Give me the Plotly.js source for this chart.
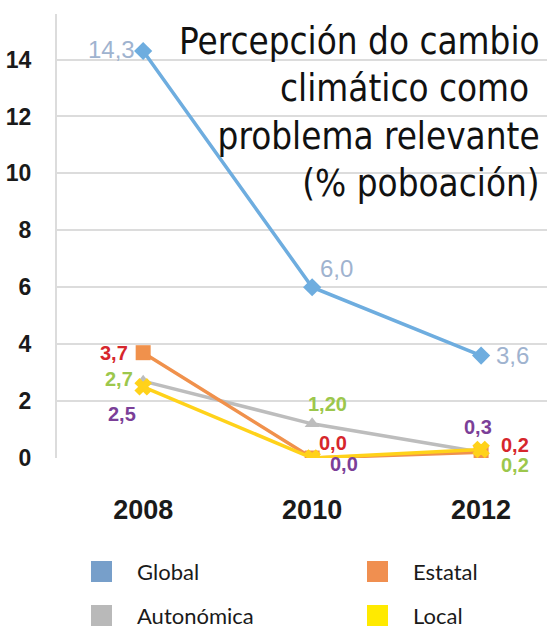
<!DOCTYPE html>
<html>
<head>
<meta charset="utf-8">
<script src="https://cdn.plot.ly/plotly-3.0.1.min.js"></script>
<style>html,body{margin:0;padding:0;background:#fff;}#chart{width:547px;height:629px;}</style>
</head>
<body>
<div id="chart"></div>
<script>
// ---- data ----
const years = [2008, 2010, 2012];
const yearLabels = ["2008", "2010", "2012"];
const seriesNames = ["Global", "Autonómica", "Estatal", "Local"];
const globalValues = [14.3, 6.0, 3.6];
const autonomicaValues = [2.7, 1.2, 0.2];
const estatalValues = [3.7, 0.0, 0.2];
const localValues = [2.5, 0.0, 0.3];
const globalLabels = ["14,3", "6,0", "3,6"];
const autonomicaLabels = ["2,7", "1,20", "0,2"];
const estatalLabels = ["3,7", "0,0", "0,2"];
const localLabels = ["2,5", "0,0", "0,3"];
const yTicks = [0, 2, 4, 6, 8, 10, 12, 14];
const titleLines = ["Percepción do cambio", "climático como ", "problema relevante", "(% poboación)"];
const legendOrder = ["Global", "Estatal", "Autonómica", "Local"];

// ---- styles ----
const styles = {
  "Global":     {line: "#6eaddf", legend: "#779fca", label: "#9fb3cf", symbol: "diamond", size: 14, bold: false},
  "Autonómica": {line: "#bdbdbd", legend: "#b9b9b9", label: "#9cc74c", symbol: "triangle-up", size: 13, bold: true},
  "Estatal":    {line: "#f0914c", legend: "#f08f50", label: "#d6262c", symbol: "square", size: 15, bold: true},
  "Local":      {line: "#ffd21a", legend: "#ffea00", label: "#7b3f98", symbol: "x", size: 13, bold: true}
};
const values = {"Global": globalValues, "Autonómica": autonomicaValues, "Estatal": estatalValues, "Local": localValues};
const labels = {"Global": globalLabels, "Autonómica": autonomicaLabels, "Estatal": estatalLabels, "Local": localLabels};
// label placement [xanchor, xshift, yshift] per point
const labelPos = {
  "Global":     [["right", -6, 2], ["left", 6, 19], ["left", 13, 0]],
  "Autonómica": [["right", -8, 2], ["center", 15, 20], ["left", 18, -13]],
  "Estatal":    [["right", -13, 0], ["left", 5, 15], ["left", 18, 7]],
  "Local":      [["right", -5, -27], ["left", 16, -6], ["center", -3, 22]]
};

const traces = seriesNames.map(n => ({
  x: years, y: values[n], type: "scatter", mode: "lines+markers", name: n,
  line: {color: styles[n].line, width: 3.5},
  marker: {color: styles[n].line, symbol: styles[n].symbol, size: styles[n].size,
           line: {color: styles[n].line, width: n === "Local" ? 2 : 0}},
  showlegend: false, hoverinfo: "skip"
}));

const annotations = [];
seriesNames.forEach(n => {
  values[n].forEach((v, i) => {
    const p = labelPos[n][i];
    annotations.push({
      x: years[i], y: v, xref: "x", yref: "y", text: labels[n][i], showarrow: false,
      xanchor: p[0], yanchor: "middle", xshift: p[1], yshift: p[2],
      font: styles[n].bold
        ? {family: "Liberation Sans, Arial, sans-serif", size: 20, color: styles[n].label, weight: "bold"}
        : {family: "Liberation Sans, Arial, sans-serif", size: 24, color: styles[n].label}
    });
  });
});

annotations.push({
  xref: "paper", yref: "paper", x: 0.99, y: 1.0, xanchor: "right", yanchor: "top",
  yshift: -4, align: "right", showarrow: false,
  text: titleLines.join("<br>"),
  font: {family: "DejaVu Sans Condensed, DejaVu Sans, sans-serif", size: 36.5, color: "#111"}
});

// legend (2 x 2 grid) built from series names and styles
const shapes = [];
const legX = [91, 367], legY = [561, 605], sq = 21;
legendOrder.forEach((n, k) => {
  const col = k % 2, row = Math.floor(k / 2);
  shapes.push({type: "rect", xref: "paper", yref: "paper",
    x0: (legX[col] - 57) / 490, x1: (legX[col] + sq - 57) / 490,
    y0: (458 - legY[row] - sq) / 444, y1: (458 - legY[row]) / 444,
    fillcolor: styles[n].legend, line: {width: 0}});
  annotations.push({xref: "paper", yref: "paper",
    x: (legX[col] + 44 - 57) / 490, y: (458 - legY[row] - sq / 2) / 444,
    xanchor: "left", yanchor: "middle", showarrow: false, text: n,
    font: {family: "Lato, sans-serif", size: 22, color: "#1a1a1a"}});
});

const layout = {
  width: 547, height: 629,
  margin: {l: 57, r: 0, t: 14, b: 171},
  paper_bgcolor: "#fff", plot_bgcolor: "#fff",
  xaxis: {range: [2006.98, 2012.78], tickvals: years, ticktext: yearLabels,
    showgrid: false, zeroline: false, showline: false,
    ticks: "outside", ticklen: 28, tickcolor: "rgba(0,0,0,0)",
    tickfont: {family: "Liberation Sans Narrow, Arial Narrow, sans-serif", size: 27, color: "#1a1a1a", weight: "bold"}},
  yaxis: {range: [0, 15.6], tickvals: yTicks, ticktext: yTicks.map(String),
    showgrid: true, gridcolor: "#dcdcdc", gridwidth: 2, zeroline: false,
    showline: true, linecolor: "#dcdcdc", linewidth: 2,
    ticks: "outside", ticklen: 19, tickcolor: "rgba(0,0,0,0)",
    tickfont: {family: "Liberation Sans Narrow, Arial Narrow, sans-serif", size: 23, color: "#1a1a1a", weight: "bold"}},
  annotations: annotations, shapes: shapes, showlegend: false
};

Plotly.newPlot("chart", traces, layout, {displayModeBar: false, staticPlot: true});
</script>
</body>
</html>
